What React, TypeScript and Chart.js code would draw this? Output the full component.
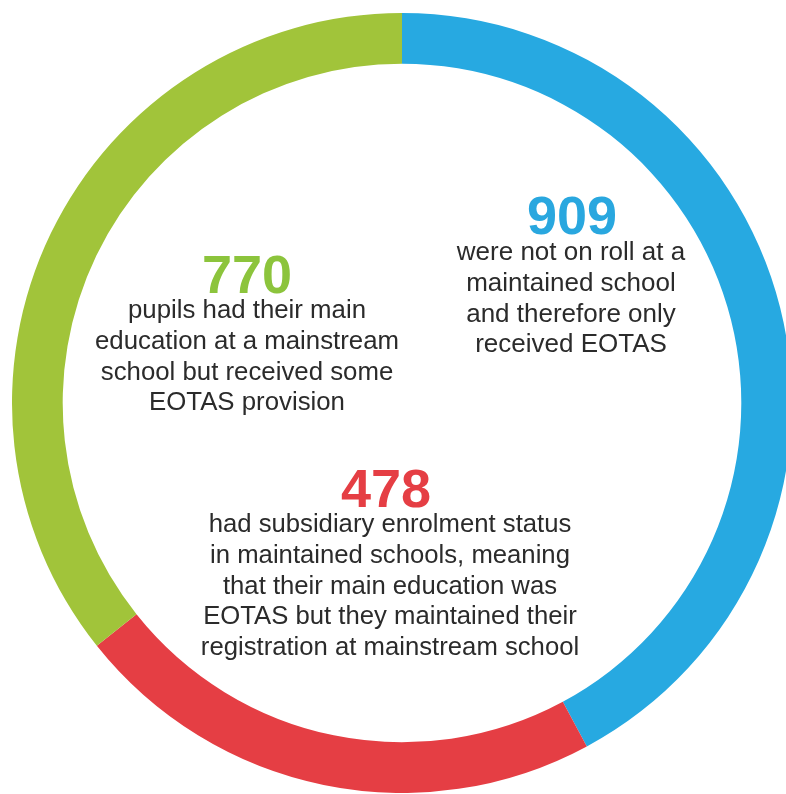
import React, { useEffect, useRef } from "react";
import { Chart, registerables } from "chart.js";

Chart.register(...registerables);

const categories = ["Not on roll (EOTAS only)", "Subsidiary enrolment", "Mainstream with some EOTAS"];
const values = [909, 478, 770];
const ringColors = ["#27a9e1", "#e53e44", "#a1c43a"];
const numberColors = ["#29a7df", "#e53e44", "#8cc43c"];
const descriptions = [
  ["were not on roll at a", "maintained school", "and therefore only", "received EOTAS"],
  [
    "had subsidiary enrolment status",
    "in maintained schools, meaning",
    "that their main education was",
    "EOTAS but they maintained their",
    "registration at mainstream school",
  ],
  ["pupils had their main", "education at a mainstream", "school but received some", "EOTAS provision"],
];

const FONT = '"Liberation Sans", Arial, Helvetica, sans-serif';

// label block placement: [numberCenterX, numberTop, bodyCenterX, bodyTop, bodyFontSize]
const labelPlacement = [
  [572, 188, 571, 236, 26],
  [386, 461, 390, 508, 25.7],
  [247, 247, 247, 294, 25.8],
];

export default function App() {
  const ref = useRef<HTMLCanvasElement | null>(null);

  useEffect(() => {
    document.body.style.margin = "0";
    const chart = new Chart(ref.current as HTMLCanvasElement, {
      type: "doughnut",
      data: {
        labels: categories,
        datasets: [
          {
            data: values,
            backgroundColor: ringColors,
            borderWidth: 0,
          },
        ],
      },
      options: {
        responsive: false,
        animation: false,
        cutout: "87%",
        layout: { padding: 0 },
        plugins: { legend: { display: false }, tooltip: { enabled: false } },
      },
    });
    return () => chart.destroy();
  }, []);

  return (
    <div
      style={{
        position: "fixed",
        left: 0,
        top: 0,
        width: 786,
        height: 794,
        overflow: "hidden",
        background: "#fff",
      }}
    >
      <canvas
        ref={ref}
        width={780}
        height={780}
        style={{ position: "absolute", left: 12, top: 13, width: 780, height: 780 }}
      />
      {values.map((v, i) => {
        const [nx, ny, bx, by, fs] = labelPlacement[i];
        return (
          <React.Fragment key={i}>
            <div
              style={{
                position: "absolute",
                left: nx - 150,
                top: ny,
                width: 300,
                textAlign: "center",
                fontFamily: FONT,
                fontWeight: "bold",
                fontSize: 54,
                lineHeight: "54px",
                color: numberColors[i],
              }}
            >
              {v}
            </div>
            <div
              style={{
                position: "absolute",
                left: bx - 250,
                top: by,
                width: 500,
                textAlign: "center",
                fontFamily: FONT,
                fontSize: fs,
                lineHeight: "30.8px",
                color: "#2b2b2b",
              }}
            >
              {descriptions[i].map((line, j) => (
                <div key={j}>{line}</div>
              ))}
            </div>
          </React.Fragment>
        );
      })}
    </div>
  );
}
